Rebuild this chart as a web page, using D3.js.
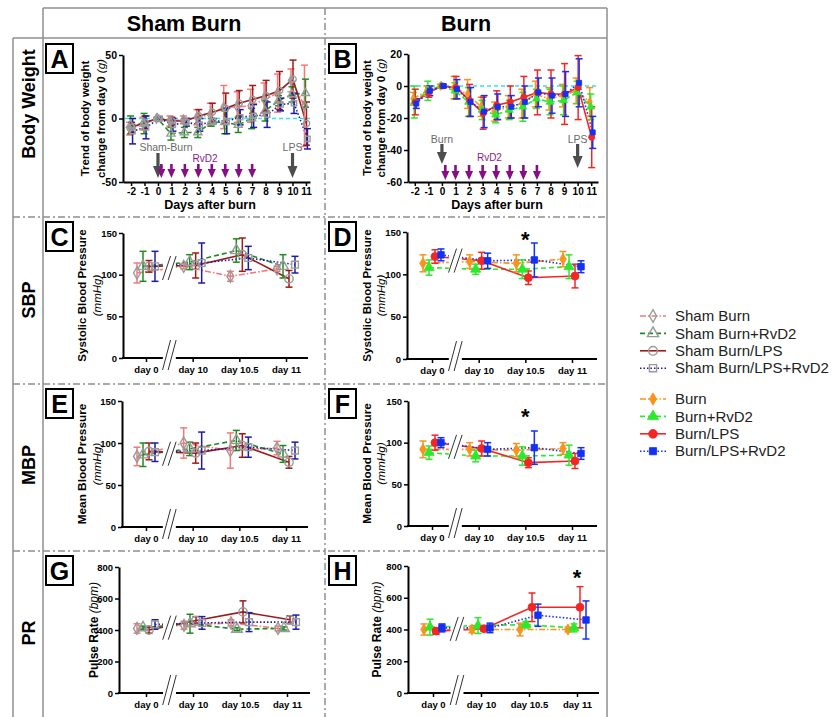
<!DOCTYPE html>
<html><head><meta charset="utf-8">
<script src="https://cdn.jsdelivr.net/npm/d3@7"></script>
<style>
body{margin:0;background:#fff;}
svg{display:block;}
</style></head><body>
<svg id="fig" width="840" height="717"></svg>
<script>
// ---------------- DATA ----------------
const cats = ["day 0", "day 10", "day 10.5", "day 11"];
const bwDays = [-2,-1,0,1,2,3,4,5,6,7,8,9,10,11];
const bwTicksSham = [-50, 0, 50];
const bwTicksBurn = [-60, -40, -20, 0, 20];
const bpTicks = [0, 50, 100, 150];
const prTicks = [0, 200, 400, 600, 800];
const rvd2Days = [0.25, 1, 2, 3, 4, 5, 6, 7];
const injuryDay = 0;
const lpsDay = 10;

// Body weight change (g) - sham groups
const bwShamBurn        = [-8,-4,0,-2,-1,1,3,9,9,10,15,20,30,10];
const bwShamBurnSd      = [5,5,1,4,3,6,9,17,12,13,13,15,9,32];
const bwShamBurnRvD2    = [-5,-4,0,-12,-11,-11,-3,-3,-5,0,6,14,19,20];
const bwShamBurnRvD2Sd  = [7,8,1,5,4,4,3,9,6,8,8,4,6,11];
const bwShamLPS         = [-7,-3,0,-2,-2,2,5,8,12,15,18,22,31,-4];
const bwShamLPSSd       = [4,5,1,3,2,5,7,12,10,11,12,15,15,17];
const bwShamLPSRvD2     = [-10,-7,0,-5,-3,-5,-2,-2,1,2,3,11,12,-16];
const bwShamLPSRvD2Sd   = [10,9,1,5,3,5,2,10,6,9,10,5,8,8];
// Body weight change (g) - burn groups
const bwBurn            = [-8,-3,0,-1,-5,-13,-16,-13,-11,-5,-8,-6,-3,-10];
const bwBurnSd          = [4,3,1,7,9,6,6,7,9,8,7,7,8,9];
const bwBurnRvD2        = [-10,-3,0,-3,-10,-15,-18,-15,-13,-8,-10,-9,-4,-13];
const bwBurnRvD2Sd      = [10,6,1,5,9,6,5,6,9,6,8,9,7,8];
const bwBurnLPS         = [-10,-4,0,-1,-9,-17,-12,-10,-7,-4,-5,-5,-1,-32];
const bwBurnLPSSd       = [8,3,1,7,10,10,9,10,13,14,15,19,20,19];
const bwBurnLPSRvD2     = [-11,-3,0,-2,-10,-16,-13,-13,-10,-4,-6,-5,2,-29];
const bwBurnLPSRvD2Sd   = [3,3,1,6,9,10,8,7,10,9,11,14,15,10];

// Systolic blood pressure (mmHg)
const sbpShamBurn = [102,110,98,107],  sbpShamBurnSd = [12,3,6,3];
const sbpShamBurnRvD2 = [110,115,129,110], sbpShamBurnRvD2Sd = [18,9,14,14];
const sbpShamLPS = [110,111,124,95], sbpShamLPSSd = [7,15,20,10];
const sbpShamLPSRvD2 = [110,114,120,112], sbpShamLPSRvD2Sd = [18,24,14,10];
const sbpBurn = [113,115,113,118], sbpBurnSd = [10,8,10,9];
const sbpBurnRvD2 = [108,106,106,109], sbpBurnRvD2Sd = [9,6,11,14];
const sbpBurnLPS = [121,116,96,98], sbpBurnLPSSd = [8,10,8,14];
const sbpBurnLPSRvD2 = [123,116,117,109], sbpBurnLPSRvD2Sd = [7,9,20,7];
const sbpStar = {cat: "day 10.5", value: 146};

// Mean blood pressure (mmHg)
const mbpShamBurn = [84,100,91,94], mbpShamBurnSd = [11,18,21,8];
const mbpShamBurnRvD2 = [86,93,103,87], mbpShamBurnRvD2Sd = [14,8,12,10];
const mbpShamLPS = [90,88,97,77], mbpShamLPSSd = [10,12,14,7];
const mbpShamLPSRvD2 = [89,91,95,91], mbpShamLPSRvD2Sd = [11,22,12,10];
const mbpBurn = [92,92,91,93], mbpBurnSd = [10,8,8,7];
const mbpBurnRvD2 = [88,84,84,85], mbpBurnRvD2Sd = [8,7,11,12];
const mbpBurnLPS = [100,93,76,78], mbpBurnLPSSd = [9,9,6,9];
const mbpBurnLPSRvD2 = [100,92,94,87], mbpBurnLPSRvD2Sd = [6,8,20,7];
const mbpStar = {cat: "day 10.5", value: 137};

// Pulse rate (bpm)
const prShamBurn = [410,430,445,410], prShamBurnSd = [30,25,20,15];
const prShamBurnRvD2 = [415,440,405,410], prShamBurnRvD2Sd = [10,60,10,10];
const prShamLPS = [400,460,515,465], prShamLPSSd = [20,25,70,25];
const prShamLPSRvD2 = [435,445,450,450], prShamLPSRvD2Sd = [30,40,60,45];
const prBurn = [400,400,400,400], prBurnSd = [35,20,40,15];
const prBurnRvD2 = [415,425,430,410], prBurnRvD2Sd = [50,50,20,25];
const prBurnLPS = [390,405,540,540], prBurnLPSSd = [20,15,90,130];
const prBurnLPSRvD2 = [410,410,490,460], prBurnLPSRvD2Sd = [25,30,70,120];
const prStar = {cat: "day 11", value: 756};

const shamNames = ["Sham Burn", "Sham Burn+RvD2", "Sham Burn/LPS", "Sham Burn/LPS+RvD2"];
const burnNames = ["Burn", "Burn+RvD2", "Burn/LPS", "Burn/LPS+RvD2"];

// ---------------- STYLES ----------------
const FONT = '"Liberation Sans", Arial, Helvetica, sans-serif';
const shamStyles = [
  {color:"#f27a7a", dash:"6,2,1.5,2", marker:"diamond"},
  {color:"#1f8a1f", dash:"5,3", marker:"triangle"},
  {color:"#9e1b1b", dash:null, marker:"circle"},
  {color:"#1c1ca6", dash:"1.5,2", marker:"square"}
];
const burnStyles = [
  {color:"#f7941d", dash:"6,2,1.5,2", marker:"diamond"},
  {color:"#2ee82e", dash:"5,3", marker:"triangle"},
  {color:"#f32626", dash:null, marker:"circle"},
  {color:"#1430f2", dash:"1.5,2", marker:"square"}
];
const symbols = {diamond:d3.symbolDiamond, triangle:d3.symbolTriangle, circle:d3.symbolCircle, square:d3.symbolSquare};
const symScale = {diamond:0.75, triangle:0.9, circle:1, square:0.85};
const MARKER_GRAY = "#9a9a9a";
const plainFmt = d => String(d);

const svg = d3.select("#fig").attr("font-family", FONT);

// ---------------- FRAME ----------------
const frameColor = "#8f8f8f";
function fl(x1,y1,x2,y2,dash){
  svg.append("line").attr("x1",x1).attr("y1",y1).attr("x2",x2).attr("y2",y2)
    .attr("stroke",frameColor).attr("stroke-width",1.5).attr("stroke-dasharray",dash||null);
}
fl(43,8,607,8);
fl(13,38,607,38);
fl(43,8,43,717);
fl(13,38,13,717);
fl(607,8,607,717);
fl(325,8,325,717,"7,3,2,3");
[217,384,551].forEach(y=>fl(13,y,607,y,"7,3,2,3"));

svg.append("text").attr("x",184).attr("y",31).attr("text-anchor","middle")
  .attr("font-size",21.5).attr("font-weight","bold").text("Sham Burn");
svg.append("text").attr("x",466).attr("y",31).attr("text-anchor","middle")
  .attr("font-size",21.5).attr("font-weight","bold").text("Burn");

const rowLabels = [["Body Weight",104],["SBP",300],["MBP",465],["PR",633]];
rowLabels.forEach(([t,y])=>{
  svg.append("text").attr("transform",`translate(29,${y}) rotate(-90)`)
    .attr("text-anchor","middle").attr("dy","0.35em")
    .attr("font-size",18).attr("font-weight","bold").text(t);
});

// ---------------- HELPERS ----------------
function letterBox(letter, x, y){
  svg.append("rect").attr("x",x).attr("y",y).attr("width",27).attr("height",29)
    .attr("fill","#fff").attr("stroke","#000").attr("stroke-width",2);
  svg.append("text").attr("x",x+13.5).attr("y",y+24).attr("text-anchor","middle")
    .attr("font-size",25).attr("font-weight","bold").text(letter);
}
function vtitle(g, x, y, parts, fs){
  const t = g.append("text").attr("transform",`translate(${x},${y}) rotate(-90)`)
    .attr("text-anchor","middle").attr("dy","0.35em").attr("font-size",fs).attr("fill","#000");
  parts.forEach(p=>t.append("tspan").text(p[0])
    .attr("font-weight",p[1]?"bold":"normal").attr("font-style",p[2]?"italic":"normal"));
}
function styleAxis(g, fs){
  g.attr("font-family",FONT);
  g.select(".domain").attr("stroke","#000").attr("stroke-width",2);
  g.selectAll(".tick line").attr("stroke","#000").attr("stroke-width",1.5);
  g.selectAll(".tick text").attr("fill","#000").attr("font-size",fs)
    .attr("font-weight","bold").attr("font-family",FONT);
}
function drawMarker(g, x, y, st, filled, size){
  g.append("path")
    .attr("d", d3.symbol().type(symbols[st.marker]).size(size*symScale[st.marker])())
    .attr("transform",`translate(${x},${y})`)
    .attr("fill", filled ? st.color : "none")
    .attr("stroke", filled ? st.color : MARKER_GRAY)
    .attr("stroke-width", filled ? 0.8 : 1.4);
}
function drawErrorBars(g, pts, st, cap){
  pts.forEach(p=>{
    g.append("line").attr("x1",p.x).attr("x2",p.x).attr("y1",p.lo).attr("y2",p.hi)
      .attr("stroke",st.color).attr("stroke-width",1.5);
    [p.lo,p.hi].forEach(yy=>g.append("line").attr("x1",p.x-cap).attr("x2",p.x+cap)
      .attr("y1",yy).attr("y2",yy).attr("stroke",st.color).attr("stroke-width",1.5));
  });
}
function drawLine(g, pts, st){
  g.append("path").attr("d", d3.line().x(p=>p.x).y(p=>p.y)(pts))
    .attr("fill","none").attr("stroke",st.color).attr("stroke-width",1.6)
    .attr("stroke-dasharray",st.dash);
}
function arrow(g, x, y1, y2, color, shaftW, headW, headH){
  const ys = y2-headH;
  g.append("path").attr("d",
    `M${x-shaftW/2},${y1}L${x+shaftW/2},${y1}L${x+shaftW/2},${ys}L${x+headW/2},${ys}L${x},${y2}L${x-headW/2},${ys}L${x-shaftW/2},${ys}Z`)
    .attr("fill",color);
}

// ---------------- BODY WEIGHT PANELS ----------------
function timePanel(p){
  const g = svg.append("g");
  const x = d3.scaleLinear().domain(p.xdom).range([p.left,p.right]);
  const y = d3.scaleLinear().domain(p.ydom).range([p.bottom,p.top]);
  const ya = g.append("g").attr("transform",`translate(${p.left},0)`)
    .call(d3.axisLeft(y).tickValues(p.ticks).tickFormat(plainFmt).tickSize(4).tickSizeOuter(0).tickPadding(2));
  styleAxis(ya, 10.5);
  const xa = g.append("g").attr("transform",`translate(0,${p.bottom})`)
    .call(d3.axisBottom(x).tickValues(bwDays).tickFormat(plainFmt).tickSize(4).tickSizeOuter(0).tickPadding(2));
  styleAxis(xa, 10);
  g.append("text").attr("x",p.xTitle).attr("y",p.bottom+27).attr("text-anchor","middle")
    .attr("font-size",12.5).attr("font-weight","bold").text("Days after burn");
  vtitle(g, p.titleX[0], (p.top+p.bottom)/2, [["Trend of body weight",1,0]], 11.5);
  vtitle(g, p.titleX[1], (p.top+p.bottom)/2, [["change from day 0 ",1,0],["(g)",0,1]], 11.5);
  // zero reference
  g.append("line").attr("x1",p.left+2).attr("x2",p.right).attr("y1",y(0)).attr("y2",y(0))
    .attr("stroke","#2fe3f2").attr("stroke-width",1.3).attr("stroke-dasharray","4,3");
  // annotations
  const a = p.ann;
  g.append("text").attr("x",x(injuryDay)+a.injDx).attr("y",a.txtY).attr("text-anchor","middle")
    .attr("font-size",10.5).attr("fill","#6b6b6b").text(a.injText);
  g.append("text").attr("x",x(lpsDay)).attr("y",a.txtY).attr("text-anchor","middle")
    .attr("font-size",10.5).attr("fill","#6b6b6b").text("LPS");
  arrow(g, x(injuryDay), a.gy1, a.gy2, "#4d4d4d", 3.2, 10, 12);
  arrow(g, x(lpsDay), a.gy1, a.ly2, "#4d4d4d", 3.2, 10, 12);
  g.append("text").attr("x",x(3.5)).attr("y",a.rvY).attr("text-anchor","middle")
    .attr("font-size",10).attr("fill","#8b1a8b").text("RvD2");
  rvd2Days.forEach(d=>arrow(g, x(d), a.py1, a.py2, "#860f86", 2.6, 8, 9));
  // series
  const lineG = g.append("g"), ebG = g.append("g"), mG = g.append("g");
  p.series.forEach((s,i)=>{
    const st = p.styles[i];
    const pts = bwDays.map((d,j)=>({x:x(d)+p.offsets[i], y:y(s[0][j]), lo:y(s[0][j]-s[1][j]), hi:y(s[0][j]+s[1][j])}));
    drawErrorBars(ebG, pts, st, 3.5);
    drawLine(lineG, pts, st);
    pts.forEach(pt=>drawMarker(mG, pt.x, pt.y, st, p.filled, p.msize));
  });
}

timePanel({left:123,right:310,top:55,bottom:182,xdom:[-2.6,11.3],ydom:[-50,50],ticks:bwTicksSham,
  xTitle:210,titleX:[85,101],styles:shamStyles,filled:false,msize:32,offsets:[-1.5,-0.5,0.5,1.5],
  series:[[bwShamBurn,bwShamBurnSd],[bwShamBurnRvD2,bwShamBurnRvD2Sd],[bwShamLPS,bwShamLPSSd],[bwShamLPSRvD2,bwShamLPSRvD2Sd]],
  ann:{injText:"Sham-Burn",injDx:8,txtY:151,gy1:153,gy2:178,ly2:178,rvY:162,py1:164,py2:178}});
timePanel({left:408,right:598,top:54,bottom:182,xdom:[-2.5,11.5],ydom:[-60,20],ticks:bwTicksBurn,
  xTitle:497,titleX:[367,381],styles:burnStyles,filled:true,msize:30,offsets:[-1.5,-0.5,0.5,1.5],
  series:[[bwBurn,bwBurnSd],[bwBurnRvD2,bwBurnRvD2Sd],[bwBurnLPS,bwBurnLPSSd],[bwBurnLPSRvD2,bwBurnLPSRvD2Sd]],
  ann:{injText:"Burn",injDx:0,txtY:143,gy1:144,gy2:164,ly2:168,rvY:161,py1:165,py2:180}});

// ---------------- CATEGORY PANELS ----------------
function catPanel(p){
  const g = svg.append("g");
  const x = d3.scalePoint().domain(cats).range([p.c0,p.c1]);
  const y = d3.scaleLinear().domain(p.ydom).range([p.bottom,p.top]);
  const ya = g.append("g").attr("transform",`translate(${p.left},0)`)
    .call(d3.axisLeft(y).tickValues(p.ticks).tickSize(4).tickSizeOuter(0).tickPadding(2));
  styleAxis(ya, 9.5);
  const xa = g.append("g").attr("transform",`translate(0,${p.bottom})`)
    .call(d3.axisBottom(x).tickSize(4).tickSizeOuter(0).tickPadding(4));
  xa.select(".domain").remove();
  styleAxis(xa, 9.5);
  g.append("line").attr("x1",p.left-1).attr("x2",p.right).attr("y1",p.bottom).attr("y2",p.bottom)
    .attr("stroke","#000").attr("stroke-width",2);
  vtitle(g, p.titleX[0], (p.top+p.bottom)/2, p.title[0], p.tfs);
  if (p.title[1]) vtitle(g, p.titleX[1], (p.top+p.bottom)/2, p.title[1], p.tfs);

  const lineG = g.append("g"), cover = g.append("g"), ebG = g.append("g"), mG = g.append("g");
  const firstVals = [];
  p.series.forEach((s,i)=>{
    const st = p.styles[i];
    const pts = cats.map((c,j)=>({x:x(c)+p.offsets[i], y:y(s[0][j]), lo:y(s[0][j]-s[1][j]), hi:y(s[0][j]+s[1][j])}));
    firstVals.push(s[0][0]);
    drawErrorBars(ebG, pts, st, 3.5);
    drawLine(lineG, pts, st);
    pts.forEach(pt=>drawMarker(mG, pt.x, pt.y, st, p.filled, p.msize));
  });
  // axis break
  const bx = (x(cats[0])+x(cats[1]))/2;
  cover.append("rect").attr("x",bx-6.5).attr("y",p.top-10).attr("width",13).attr("height",p.bottom-p.top+14).attr("fill","#fff");
  const cyU = y(d3.mean(firstVals));
  [[cyU,12],[p.bottom-3,15]].forEach(([cy,h])=>{
    [-2.8,2.8].forEach(dx=>{
      cover.append("line").attr("x1",bx+dx-4).attr("y1",cy+h).attr("x2",bx+dx+4).attr("y2",cy-h)
        .attr("stroke","#333").attr("stroke-width",1);
    });
  });
  if (p.star){
    g.append("text").attr("x",x(p.star.cat)).attr("y",y(p.star.value)+12)
      .attr("text-anchor","middle").attr("font-size",22).attr("font-weight","bold").text("*");
  }
}

const shamOff = [-9,-3,3,9], burnOff = [-9,-3,3,9];
const sbpTitle = [[["Systolic Blood Pressure",1,0]],[["(mmHg)",0,1]]];
const mbpTitle = [[["Mean Blood Pressure",1,0]],[["(mmHg)",0,1]]];
const prTitle = [[["Pulse Rate ",1,0],["(bpm)",0,1]]];

catPanel({left:123,right:308,top:233,bottom:358,c0:146,c1:286,ydom:[0,150],ticks:bpTicks,
  titleX:[82,97],title:sbpTitle,tfs:11.5,styles:shamStyles,filled:false,msize:55,offsets:shamOff,
  series:[[sbpShamBurn,sbpShamBurnSd],[sbpShamBurnRvD2,sbpShamBurnRvD2Sd],[sbpShamLPS,sbpShamLPSSd],[sbpShamLPSRvD2,sbpShamLPSRvD2Sd]]});
catPanel({left:407,right:597,top:232,bottom:359,c0:432,c1:572,ydom:[0,150],ticks:bpTicks,
  titleX:[367,381],title:sbpTitle,tfs:11.5,styles:burnStyles,filled:true,msize:50,offsets:burnOff,star:sbpStar,
  series:[[sbpBurn,sbpBurnSd],[sbpBurnRvD2,sbpBurnRvD2Sd],[sbpBurnLPS,sbpBurnLPSSd],[sbpBurnLPSRvD2,sbpBurnLPSRvD2Sd]]});
catPanel({left:122,right:308,top:401,bottom:527,c0:146,c1:286,ydom:[0,150],ticks:bpTicks,
  titleX:[82,97],title:mbpTitle,tfs:11.8,styles:shamStyles,filled:false,msize:55,offsets:shamOff,
  series:[[mbpShamBurn,mbpShamBurnSd],[mbpShamBurnRvD2,mbpShamBurnRvD2Sd],[mbpShamLPS,mbpShamLPSSd],[mbpShamLPSRvD2,mbpShamLPSRvD2Sd]]});
catPanel({left:408,right:597,top:401,bottom:526,c0:432,c1:572,ydom:[0,150],ticks:bpTicks,
  titleX:[367,381],title:mbpTitle,tfs:11.8,styles:burnStyles,filled:true,msize:50,offsets:burnOff,star:mbpStar,
  series:[[mbpBurn,mbpBurnSd],[mbpBurnRvD2,mbpBurnRvD2Sd],[mbpBurnLPS,mbpBurnLPSSd],[mbpBurnLPSRvD2,mbpBurnLPSRvD2Sd]]});
catPanel({left:119,right:310,top:567,bottom:693,c0:146,c1:287,ydom:[0,800],ticks:prTicks,
  titleX:[94],title:prTitle,tfs:12,styles:shamStyles,filled:false,msize:55,offsets:shamOff,
  series:[[prShamBurn,prShamBurnSd],[prShamBurnRvD2,prShamBurnRvD2Sd],[prShamLPS,prShamLPSSd],[prShamLPSRvD2,prShamLPSRvD2Sd]]});
catPanel({left:408,right:599,top:566,bottom:693,c0:433,c1:577,ydom:[0,800],ticks:prTicks,
  titleX:[377],title:prTitle,tfs:12,styles:burnStyles,filled:true,msize:50,offsets:burnOff,star:prStar,
  series:[[prBurn,prBurnSd],[prBurnRvD2,prBurnRvD2Sd],[prBurnLPS,prBurnLPSSd],[prBurnLPSRvD2,prBurnLPSRvD2Sd]]});

// ---------------- LETTER BOXES ----------------
[["A",46,44],["B",329,44],["C",46,222],["D",329,222],["E",46,389],["F",329,389],["G",46,556],["H",329,556]]
  .forEach(([l,x,y])=>letterBox(l,x,y));

// ---------------- LEGEND ----------------
const leg = svg.append("g");
function legendItem(name, st, filled, y){
  leg.append("line").attr("x1",640).attr("x2",666).attr("y1",y).attr("y2",y)
    .attr("stroke",st.color).attr("stroke-width",1.6).attr("stroke-dasharray",st.dash);
  drawMarker(leg, 653, y, st, filled, 60);
  leg.append("text").attr("x",675).attr("y",y).attr("dy","0.35em")
    .attr("font-size",15).attr("fill","#222").text(name);
}
shamNames.forEach((n,i)=>legendItem(n, shamStyles[i], false, 316+i*17.4));
burnNames.forEach((n,i)=>legendItem(n, burnStyles[i], true, 399+i*17.4));
</script>
</body></html>
